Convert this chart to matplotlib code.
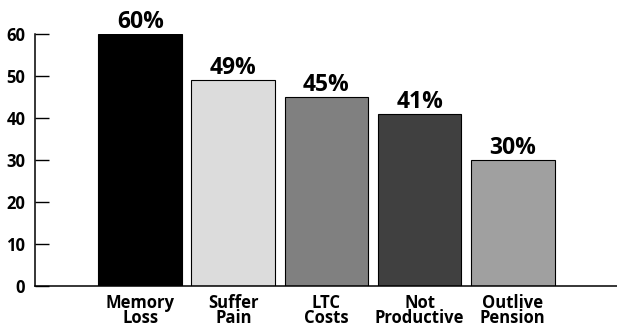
import matplotlib.pyplot as plt

categories = ["Memory\nLoss", "Suffer\nPain", "LTC\nCosts", "Not\nProductive", "Outlive\nPension"]
values = [60, 49, 45, 41, 30]
colors = ["#000000", "#dcdcdc", "#808080", "#404040", "#a0a0a0"]
yticks = [0, 10, 20, 30, 40, 50, 60]

plt.rcParams['font.family'] = ['Open Sans', 'DejaVu Sans']

fig = plt.figure(figsize=(6.17, 3.27), dpi=100)
ax = fig.add_axes([35 / 617, 41 / 327, 582 / 617, 252 / 327])

x = list(range(len(categories)))
bars = ax.bar(x, values, width=0.9, color=colors, edgecolor="black", linewidth=0.8)

for bar, v in zip(bars, values):
    ax.annotate(f"{v}%", (bar.get_x() + bar.get_width() / 2, v),
                xytext=(0, 0), textcoords="offset points",
                ha="center", va="bottom", fontsize=16.5, fontweight="bold")

ax.set_xlim(-1.13, 5.12)
ax.set_ylim(0, 60)
ax.set_yticks(yticks)
ax.set_xticks(x)
ax.set_xticklabels(categories, fontsize=12, fontweight="bold", linespacing=0.78)
ax.tick_params(axis="x", length=0, pad=6)
ax.tick_params(axis="y", direction="in", length=10, width=1, pad=7, labelsize=12)
for lbl in ax.get_yticklabels():
    lbl.set_fontweight("bold")

ax.spines["top"].set_visible(False)
ax.spines["right"].set_visible(False)
ax.spines["left"].set_linewidth(1.1)
ax.spines["bottom"].set_linewidth(1.1)

fig.savefig("out.png", dpi=100)
